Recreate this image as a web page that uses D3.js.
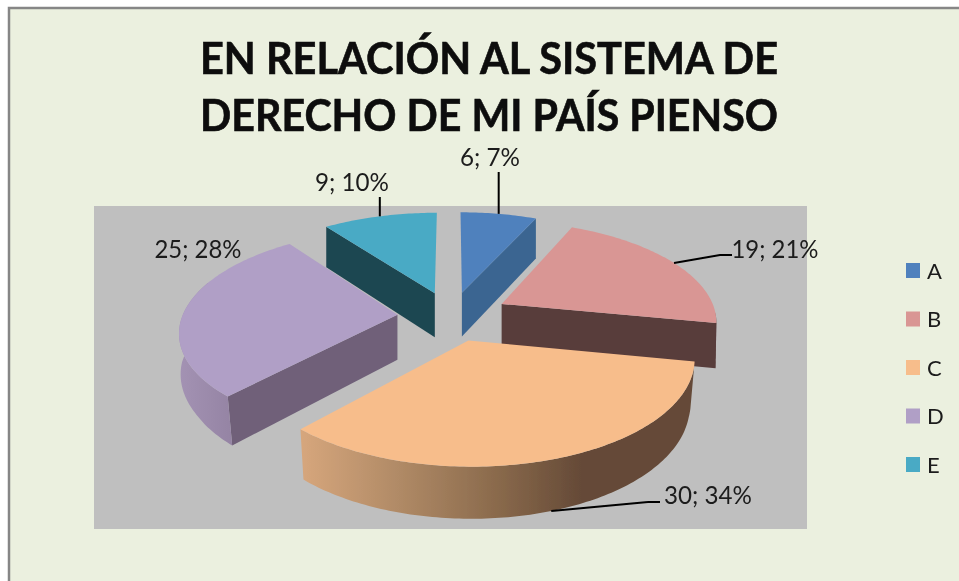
<!DOCTYPE html>
<html>
<head>
<meta charset="utf-8">
<script src="https://cdn.jsdelivr.net/npm/d3@7/dist/d3.min.js"></script>
<style>
html,body{margin:0;padding:0;background:#fff;overflow:hidden}
svg{display:block}
text{font-family:Lato,"Open Sans",sans-serif}
</style>
</head>
<body>
<svg id="c" width="959" height="581"></svg>
<script>
const categories = ["A","B","C","D","E"];
const values = [6,19,30,25,9];
const titleLines = ["EN RELACIÓN AL SISTEMA DE","DERECHO DE MI PAÍS PIENSO"];
const topColors = ["#4f81bd","#d99694","#f7bd8b","#b09fc6","#4aaac5"];
const wallColors = ["#3a6591","#583c3b","#654a37","#6f6079","#1e4751"];

const W=959,H=581;
const root=d3.select("#c");
const defs=root.append("defs");
defs.append("filter").attr("id","soft")
  .attr("filterUnits","userSpaceOnUse").attr("x",0).attr("y",0).attr("width",W).attr("height",H)
  .append("feGaussianBlur").attr("stdDeviation",0.45);
const svg=root.append("g").attr("filter","url(#soft)");
const gC=defs.append("linearGradient").attr("id","rimC").attr("gradientUnits","userSpaceOnUse")
  .attr("x1",302).attr("x2",690).attr("y1",0).attr("y2",0);
[[0,"#d6a67c"],[0.25,"#b08a66"],[0.5,"#8a6a4c"],[0.72,"#654a37"],[1,"#654a37"]]
  .forEach(s=>gC.append("stop").attr("offset",s[0]).attr("stop-color",s[1]));
const gD=defs.append("linearGradient").attr("id","rimD").attr("gradientUnits","userSpaceOnUse")
  .attr("x1",180).attr("x2",235).attr("y1",0).attr("y2",0);
[[0,"#a392b3"],[1,"#9483a3"]].forEach(s=>gD.append("stop").attr("offset",s[0]).attr("stop-color",s[1]));

// Frame
svg.append("rect").attr("x",0).attr("y",0).attr("width",W).attr("height",H).attr("fill","#fff");
svg.append("rect").attr("x",9).attr("y",8).attr("width",W).attr("height",H)
  .attr("fill","#ebf0df").attr("stroke","#868686").attr("stroke-width",2.5);
svg.append("rect").attr("x",94).attr("y",206).attr("width",713).attr("height",323).attr("fill","#bfbfbf");

// Title
titleLines.forEach((t,i)=>svg.append("text").text(t)
  .attr("x",489).attr("y",74+i*57).attr("text-anchor","middle")
  .attr("font-size",43).attr("font-weight",700).attr("fill","#0b0b0b")
  .attr("stroke","#0b0b0b").attr("stroke-width",0.6)
  .attr("textLength",578).attr("lengthAdjust","spacingAndGlyphs"));

// 3D projection of the unit pie
const P={cx:451,cy:316,R:215,Hy:99,k:0.151,D:45,kd:0.11,shrink:0.04};
const explode=[0.25,0.27,0.25,0.25,0.25];
const deg=Math.PI/180;
function world(d,a){
  const e=explode[d.i];
  return [e*Math.sin(d.mid)+Math.sin(a), e*Math.cos(d.mid)+Math.cos(a)];
}
function proj(X,Y,bottom){
  const s=1/(1+P.k*Y);
  let x=P.cx+P.R*X*s, y=P.cy-P.Hy*Y*s;
  if(bottom){
    const f=1-P.shrink*Math.min(0.5,Math.max(0,-Y));
    x=P.cx+(x-P.cx)*f; y+=P.D/(1+P.kd*Y);
  }
  return [x,y];
}
const rim=(d,a,b)=>proj(...world(d,a),b);
const apex=(d,b)=>{const e=explode[d.i];return proj(e*Math.sin(d.mid),e*Math.cos(d.mid),b);};
const line=d3.line();
const arcPts=(d,a0,a1,b)=>{
  const n=Math.max(2,Math.ceil(Math.abs(a1-a0)/(1*deg)));
  return d3.range(n+1).map(i=>rim(d,a0+(a1-a0)*i/n,b));
};

const total=d3.sum(values);
const slices=d3.pie().sort(null).startAngle(0).endAngle(2*Math.PI)(values)
  .map((d,i)=>({...d,i,mid:(d.startAngle+d.endAngle)/2}));

// back-to-front order: E, A, D, B, C
const visFrom=95*deg, visTo=290*deg;
const order=[4,0,3,1,2];
order.forEach(i=>{
  const d=slices[i],g=svg.append("g");
  const mdeg=d.mid/deg;
  if(mdeg<90||mdeg>=270){
    const a=mdeg<90?d.endAngle:d.startAngle;
    g.append("path").attr("fill",wallColors[i]).attr("d",line([
      apex(d,false),rim(d,a,false),rim(d,a,true),apex(d,true)])+"Z");
  }
  const a0=Math.max(d.startAngle,visFrom),a1=Math.min(d.endAngle,visTo);
  if(a1>a0){
    const fill=i===2?"url(#rimC)":i===3?"url(#rimD)":wallColors[i];
    g.append("path").attr("fill",fill)
      .attr("d",line(arcPts(d,a0,a1,false).concat(arcPts(d,a1,a0,true)))+"Z");
  }
  g.append("path").attr("fill",topColors[i])
    .attr("d",line([apex(d,false)].concat(arcPts(d,d.startAngle,d.endAngle,false)))+"Z");
});

// Leader lines and data labels (layout by category index)
const pctFmt=v=>Math.round(v/total*100)+"%";
const labelLayout=[
  {x:490,y:166,w:60,elbow:[[null,172]]},
  {x:775,y:258,w:87,elbow:[[720,255],[732,255]]},
  {x:708,y:504,w:88,elbow:[[648,502],[660,502]]},
  {x:198,y:258,w:87,elbow:null},
  {x:352,y:191,w:74,elbow:[[null,197]]}
];
slices.forEach((d,i)=>{
  const L=labelLayout[i];
  if(L.elbow){
    const start=rim(d,d.mid,i===2);
    const pts=[start].concat(L.elbow.map(p=>[p[0]===null?start[0]:p[0],p[1]]));
    svg.append("path").attr("fill","none").attr("stroke","#000").attr("stroke-width",2)
      .attr("d",line(pts));
  }
  svg.append("text").text(values[i]+"; "+pctFmt(values[i]))
    .attr("x",L.x).attr("y",L.y).attr("text-anchor","middle")
    .attr("font-size",25).attr("fill","#1a1a1a")
    .attr("textLength",L.w).attr("lengthAdjust","spacingAndGlyphs");
});

// Legend
const legendY=d3.scalePoint().domain(categories).range([271,465]);
const lg=svg.append("g").selectAll("g").data(categories).join("g")
  .attr("transform",c=>`translate(906,${legendY(c)})`);
lg.append("rect").attr("x",0).attr("y",-8).attr("width",14).attr("height",15)
  .attr("fill",(c,i)=>topColors[i]);
lg.append("text").text(c=>c).attr("x",21).attr("y",7.5)
  .attr("font-size",22).attr("fill","#1a1a1a");
</script>
</body>
</html>
